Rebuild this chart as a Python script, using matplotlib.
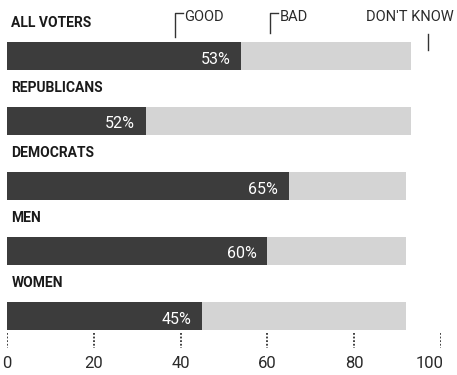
import matplotlib
matplotlib.use("Agg")
import matplotlib.pyplot as plt
import numpy as np

plt.rcParams['font.family'] = ['Roboto', 'DejaVu Sans']

# data
groups = ['ALL VOTERS', 'REPUBLICANS', 'DEMOCRATS', 'MEN', 'WOMEN']
good = [54, 32, 65, 60, 45]
bad = [39, 61, 27, 32, 47]
good_labels = ['53%', '52%', '65%', '60%', '45%']
ticks = [0, 20, 40, 60, 80, 100]

dark = '#3c3c3c'
light = '#d4d4d4'

fig = plt.figure(figsize=(4.57, 3.75), dpi=100)
ax = fig.add_axes([7 / 457, 0, 434 / 457, 1])
ax.set_xlim(0, 100)
ax.set_ylim(375, 0)
ax.axis('off')

y = 56 + 65 * np.arange(len(groups))
ax.barh(y, good, height=28, color=dark)
ax.barh(y, bad, left=good, height=28, color=light)

for yi, name, g, lab in zip(y, groups, good, good_labels):
    ax.text(1.0, yi - 33, name, fontsize=10, fontweight='bold', color='#1a1a1a',
            va='center', ha='left')
    ax.text(g - 2.5, yi + 3, lab, fontsize=11.5, color='white', va='center', ha='right')

# dotted tick marks and labels under the bars
for t in ticks:
    ax.plot([t, t], [333, 348], color='#333333', lw=1.3, ls=(0, (1, 1)))
    ha = 'right' if t == ticks[-1] else 'center'
    x = t + 0.6 if t == ticks[-1] else t
    ax.text(x, 363, str(t), fontsize=12, color='#2a2a2a', ha=ha, va='center')

# legend brackets
def bracket(x, top, bottom, label):
    ax.plot([x, x, x + 1.8], [bottom, top, top], color='#333333', lw=1)
    ax.text(x + 2.2, top + 4, label, fontsize=10.5, color='#2a2a2a', va='center', ha='left')

bracket(38.7, 13, 37, 'GOOD')
bracket(60.6, 13, 33, 'BAD')
ax.text(92.8, 17, "DON'T KNOW", fontsize=10.5, color='#2a2a2a', va='center', ha='center')
ax.plot([97, 97], [34, 50], color='#333333', lw=1)

fig.savefig('out.png', dpi=100)
